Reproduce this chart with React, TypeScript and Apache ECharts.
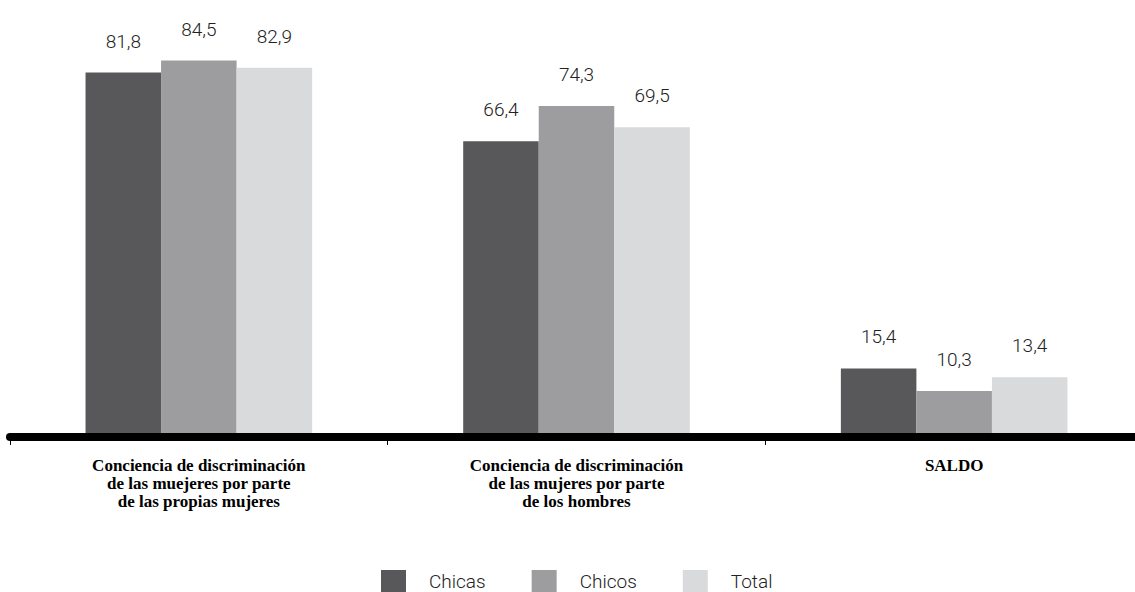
import React, { useEffect, useRef } from "react";
import * as echarts from "echarts";

const categories = [
  "Conciencia de discriminación\nde las muejeres por parte\nde las propias mujeres",
  "Conciencia de discriminación\nde las mujeres por parte\nde los hombres",
  "SALDO",
];
const seriesNames = ["Chicas", "Chicos", "Total"];
const chicas = [81.8, 66.4, 15.4];
const chicos = [84.5, 74.3, 10.3];
const total = [82.9, 69.5, 13.4];
const colors = ["#58585a", "#9d9d9f", "#d9dadc"];

const numFont = "Roboto, 'DejaVu Sans Condensed', sans-serif";

export default function App() {
  const ref = useRef<HTMLDivElement>(null);
  useEffect(() => {
    if (!ref.current) return;
    const chart = echarts.init(ref.current, null, { renderer: "svg" });
    const data = [chicas, chicos, total];
    chart.setOption({
      animation: false,
      backgroundColor: "#ffffff",
      grid: { left: 10, right: -8, top: 36, bottom: 155, containLabel: false, outerBoundsMode: "none" },
      legend: {
        left: 376,
        top: 565,
        itemWidth: 25,
        itemHeight: 22,
        itemGap: 46,
        icon: "rect",
        data: seriesNames,
        textStyle: {
          fontFamily: numFont,
          fontWeight: 300,
          fontSize: 19,
          lineHeight: 22,
          color: "#222",
          padding: [0, 0, 0, 18],
        },
      },
      xAxis: {
        type: "category",
        data: categories,
        z: 10,
        axisLine: { lineStyle: { color: "#000", width: 8 } },
        axisTick: { show: true, length: 8, lineStyle: { color: "#000", width: 1 } },
        axisLabel: {
          margin: 19,
          interval: 0,
          fontFamily: "'Liberation Serif', 'Times New Roman', serif",
          fontWeight: "bold",
          fontSize: 17,
          lineHeight: 18,
          color: "#000",
        },
      },
      yAxis: {
        type: "value",
        min: 0,
        max: 90,
        show: false,
        splitLine: { show: false },
      },
      series: seriesNames.map((name, i) => ({
        name,
        type: "bar",
        data: data[i],
        barWidth: "20%",
        barGap: "0%",
        itemStyle: { color: colors[i] },
        label: {
          show: true,
          position: "top",
          distance: 22,
          fontFamily: numFont,
          fontWeight: 300,
          fontSize: 19,
          color: "#222",
          formatter: (p: any) => p.value.toFixed(1).replace(".", ","),
        },
      })),
    });
    return () => chart.dispose();
  }, []);
  return (
    <div
      ref={ref}
      style={{ position: "fixed", left: 0, top: 0, width: 1135, height: 592 }}
    />
  );
}
